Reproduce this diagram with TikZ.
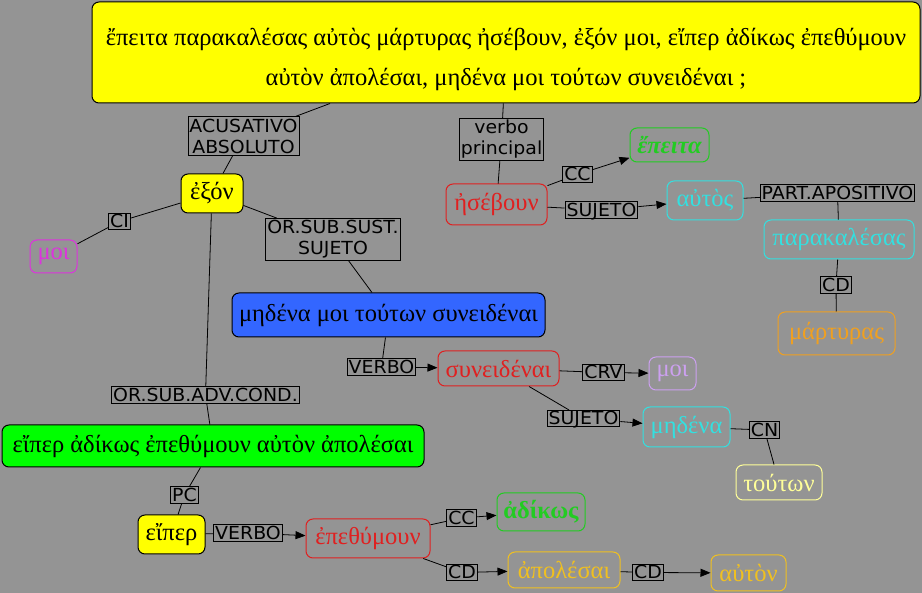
\documentclass[tikz,border=0pt]{standalone}
\usepackage{fontspec}
\setmainfont{Liberation Serif}
\newfontfamily\lblfont[FakeStretch=1.05]{DejaVu Sans}
\usepackage{xcolor}
\usetikzlibrary{arrows.meta}
\definecolor{bg}{RGB}{148,148,148}
\definecolor{wyel}{RGB}{255,255,0}
\definecolor{wblue}{RGB}{51,102,255}
\definecolor{wlime}{RGB}{0,255,0}
\definecolor{wred}{RGB}{224,32,32}
\definecolor{wcyan}{RGB}{51,224,224}
\definecolor{wmag}{RGB}{221,51,221}
\definecolor{wlav}{RGB}{204,160,240}
\definecolor{wgrn}{RGB}{34,204,34}
\definecolor{wpale}{RGB}{255,255,153}
\definecolor{wgold}{RGB}{240,192,32}
\definecolor{wora}{RGB}{240,160,32}
\tikzset{
  wd/.style={rounded corners=7pt,line width=1pt,inner sep=2pt,font=\fontsize{24.5}{28}\selectfont},
  sz/.style 2 args={minimum width=#1,minimum height=#2},
  lb/.style={draw=black,line width=0.9pt,inner xsep=1.5pt,inner ysep=1.6pt,text height=13pt,text depth=0pt,font=\lblfont\fontsize{18}{21}\selectfont},
  lbb/.style={draw=black,line width=0.9pt,inner xsep=1.5pt,inner ysep=2pt,align=center,font=\lblfont\fontsize{18}{21}\selectfont},
  ln/.style={line width=0.8pt},
  ar/.style={line width=0.8pt,-{Triangle[length=10pt,width=8pt]}}
}
\begin{document}
\begin{tikzpicture}[x=1pt,y=-1pt]
\fill[bg] (0,0) rectangle (922,593); \useasboundingbox (0,0) rectangle (922,593);
% sentence
\node[wd,fill=wyel,draw=black,sz={828}{101},align=center,font=\fontsize{24.5}{40}\selectfont] (sent) at (506,52.5) {\rule{0pt}{32pt}ἔπειτα παρακαλέσας αὐτὸς μάρτυρας ἠσέβουν, ἐξόν μοι, εἴπερ ἀδίκως ἐπεθύμουν\\αὐτὸν ἀπολέσαι, μηδένα μοι τούτων συνειδέναι ;};
% main clause
\node[lbb] (vprin) at (501.5,139.5) {verbo\\principal};
\node[wd,draw=wred,text=wred,sz={101}{41}] (hseb) at (496.5,204.5) {ἠσέβουν};
\node[lb] (ccA) at (577.5,174.5) {CC};
\node[wd,draw=wgrn,text=wgrn,sz={79}{34},font=\fontsize{24.5}{28}\selectfont\bfseries\itshape] (epeita) at (669.5,145) {ἔπειτα};
\node[lb] (sujB) at (601.5,210) {SUJETO};
\node[wd,draw=wcyan,text=wcyan,sz={76}{39}] (autos) at (705,200.5) {αὐτὸς};
\node[lb] (part) at (837.5,193) {PART.APOSITIVO};
\node[wd,draw=wcyan,text=wcyan,sz={150}{39}] (parak) at (839,239.5) {παρακαλέσας};
\node[lb] (cdA) at (836,285) {CD};
\node[wd,draw=wora,text=wora,sz={117}{43}] (mart) at (836.5,333.5) {μάρτυρας};
% absolute accusative
\node[lbb] (acus) at (243.5,136) {ACUSATIVO\\ABSOLUTO};
\node[wd,fill=wyel,draw=black,sz={62}{39}] (exon) at (212,193.5) {ἐξόν};
\node[lb] (ci) at (119.5,221.5) {CI};
\node[wd,draw=wmag,text=wmag,sz={47}{33}] (moiA) at (53.5,256.5) {μοι};
% subject clause
\node[lbb] (sust) at (333,239.5) {OR.SUB.SUST.\\SUJETO};
\node[wd,fill=wblue,draw=black,sz={313}{44}] (inf) at (388.5,315) {μηδένα μοι τούτων συνειδέναι};
\node[lb] (verboA) at (381.5,367) {VERBO};
\node[wd,draw=wred,text=wred,sz={121}{35}] (syn) at (498.5,368.5) {συνειδέναι};
\node[lb] (crv) at (603.5,372.5) {CRV};
\node[wd,draw=wlav,text=wlav,sz={47}{33}] (moiB) at (672.5,373.5) {μοι};
\node[lb] (sujA) at (583.5,418.5) {SUJETO};
\node[wd,draw=wcyan,text=wcyan,sz={87}{40}] (meden) at (686.5,427) {μηδένα};
\node[lb] (cn) at (764.5,430) {CN};
\node[wd,draw=wpale,text=wpale,sz={86}{35}] (tout) at (779,482.5) {τούτων};
% conditional clause
\node[lb] (adv) at (205.5,395) {OR.SUB.ADV.COND.};
\node[wd,fill=wlime,draw=black,sz={422}{42}] (cond) at (213,446) {εἴπερ ἀδίκως ἐπεθύμουν αὐτὸν ἀπολέσαι};
\node[lb] (pc) at (184.5,495) {PC};
\node[wd,fill=wyel,draw=black,sz={67}{39}] (eiper) at (171.5,534.5) {εἴπερ};
\node[lb] (verboB) at (248,533) {VERBO};
\node[wd,draw=wred,text=wred,sz={124}{39}] (epeth) at (368,538.5) {ἐπεθύμουν};
\node[lb] (ccB) at (461.5,518) {CC};
\node[wd,draw=wgrn,text=wgrn,sz={88}{38},font=\fontsize{24.5}{28}\selectfont\bfseries] (adik) at (541,512) {ἀδίκως};
\node[lb] (cdB) at (462,572.5) {CD};
\node[wd,draw=wgold,text=wgold,sz={112}{36}] (apol) at (564,570) {ἀπολέσαι};
\node[lb] (cdC) at (648,572.5) {CD};
\node[wd,draw=wgold,text=wgold,sz={75}{36}] (auton) at (748.5,573) {αὐτὸν};
% connectors
\draw[ln] (sent) -- (vprin); \draw[ln] (vprin) -- (hseb);
\draw[ln] (hseb) -- (ccA); \draw[ar] (ccA) -- (epeita);
\draw[ln] (hseb) -- (sujB); \draw[ar] (sujB) -- (autos);
\draw[ln] (autos) -- (part); \draw[ln] (part) -- (parak);
\draw[ln] (parak) -- (cdA); \draw[ln] (cdA) -- (mart);
\draw[ln] (sent.south -| 330,0) -- (acus); \draw[ln] (acus) -- (exon);
\draw[ln] (exon) -- (ci); \draw[ln] (ci) -- (moiA);
\draw[ln] (exon) -- (sust); \draw[ln] (sust) -- (inf);
\draw[ln] (inf) -- (verboA); \draw[ar] (verboA) -- (syn);
\draw[ln] (syn) -- (crv); \draw[ar] (crv) -- (moiB);
\draw[ln] (syn) -- (sujA); \draw[ar] (sujA) -- (meden);
\draw[ln] (meden) -- (cn); \draw[ln] (cn) -- (tout);
\draw[ln] (exon) -- (adv); \draw[ln] (adv) -- (cond);
\draw[ln] (cond) -- (pc); \draw[ln] (pc) -- (eiper);
\draw[ln] (eiper) -- (verboB); \draw[ar] (verboB) -- (epeth);
\draw[ln] (epeth) -- (ccB); \draw[ar] (ccB) -- (adik);
\draw[ln] (epeth) -- (cdB); \draw[ar] (cdB) -- (apol);
\draw[ln] (apol) -- (cdC); \draw[ar] (cdC) -- (auton);
\end{tikzpicture}
\end{document}
